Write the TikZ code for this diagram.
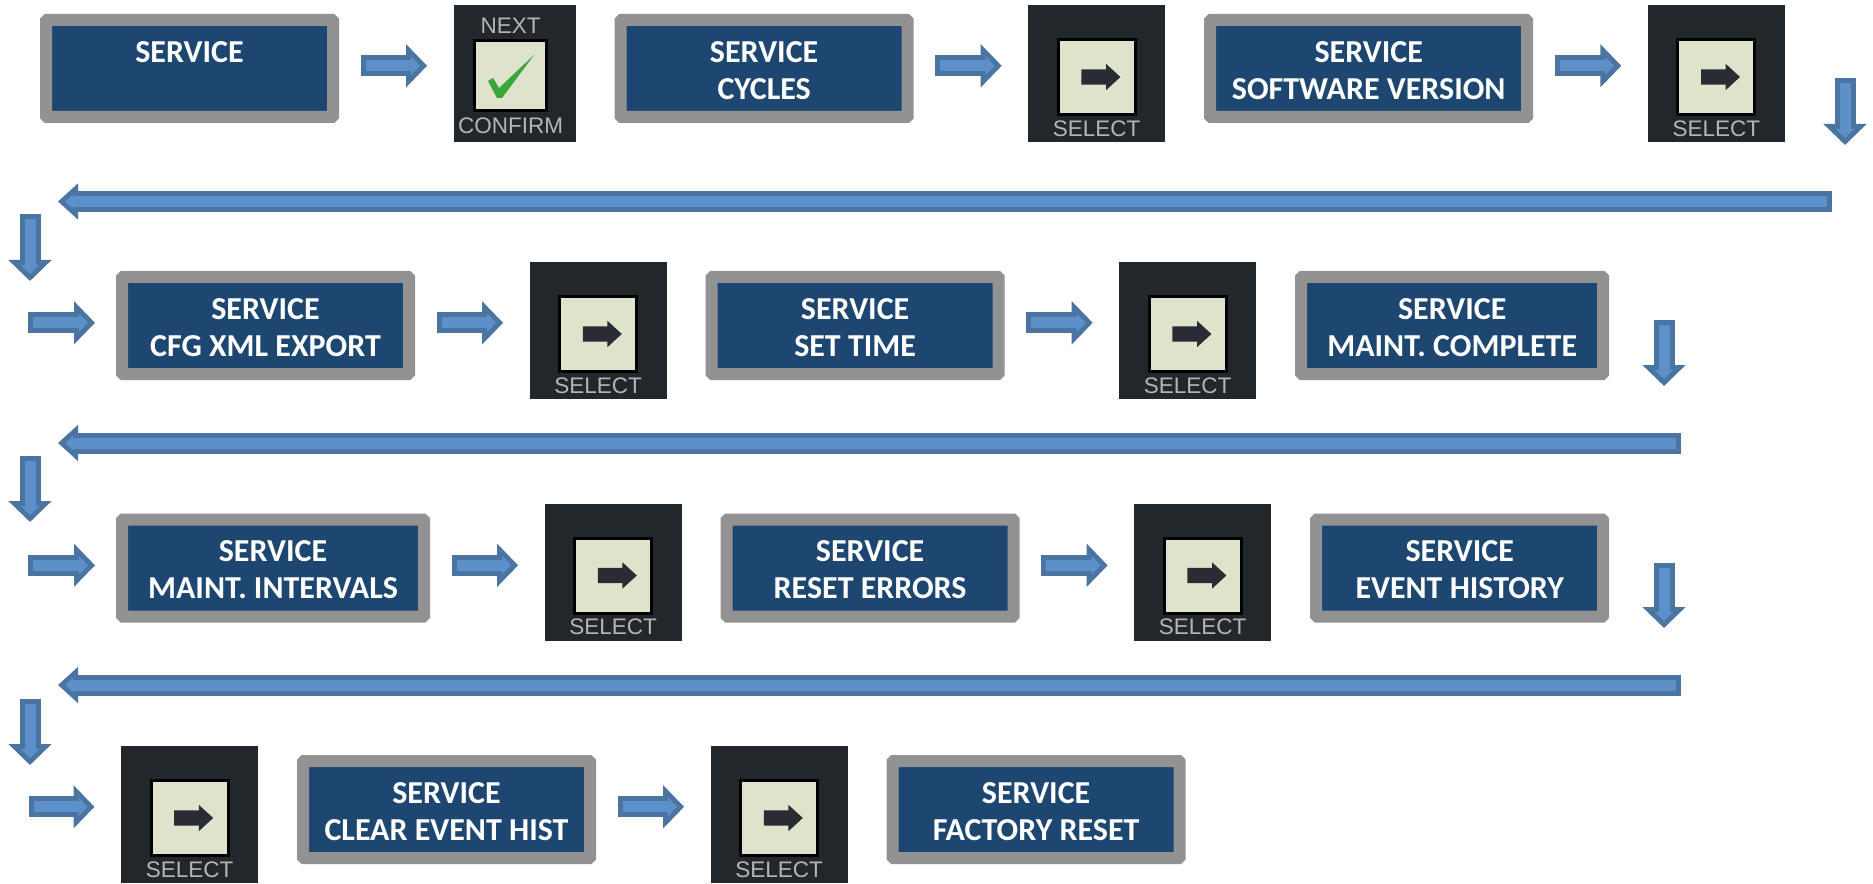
\documentclass[tikz,border=0pt]{standalone}
\usepackage{fontspec}
\setmainfont{Carlito}
\newfontfamily\keyfont{Liberation Sans}
\usetikzlibrary{arrows.meta,positioning,shapes.arrows}

\definecolor{framegray}{HTML}{929292}
\definecolor{screenblue}{HTML}{1D4770}
\definecolor{flowdark}{HTML}{4A74A2}
\definecolor{flowlight}{HTML}{5D90C8}
\definecolor{keydark}{HTML}{22272C}
\definecolor{keyface}{HTML}{DFE3CC}
\definecolor{keytext}{HTML}{B4B6B4}
\definecolor{keyglyph}{HTML}{2A2C33}
\definecolor{keycheck}{HTML}{3AA53A}

\tikzset{
  screen/.style={draw=framegray, fill=screenblue, line width=1.2mm, rounded corners=.1mm,
    text=white, font=\fontsize{9.1}{10.5}\selectfont\bfseries, align=center,
    text height=17.5pt, text depth=0pt,
    minimum width=28.7mm, minimum height=9.7mm, inner sep=0pt, yshift=.5mm},
  keybg/.style={fill=keydark, minimum width=13.7mm, minimum height=13.7mm, inner sep=0pt, outer sep=0pt},
  keytop/.style={draw=black, fill=keyface, line width=.3mm, minimum width=7.7mm, minimum height=7.5mm, inner sep=0pt},
  keylabel/.style={text=keytext, font=\keyfont\fontsize{6.4}{7}\selectfont, inner sep=0pt},
  keyarrow/.style={single arrow, fill=keyglyph, minimum height=3.9mm, inner xsep=0pt, inner ysep=.7mm,
    single arrow head extend=.55mm, single arrow tip angle=85},
  flowout/.style={line width=2.1mm, draw=flowdark, -{Triangle[length=2.1mm,width=4.2mm]}},
  flowin/.style={line width=1.1mm, draw=flowlight, -{Triangle[length=.9mm,width=1.8mm]}, shorten <=.5mm, shorten >=.7mm},
  backout/.style={line width=2.1mm, draw=flowdark, -{Triangle[length=2mm,width=3.5mm]}},
  backin/.style={line width=1.1mm, draw=flowlight, -{Triangle[length=.8mm,width=1.4mm]}, shorten <=.5mm, shorten >=.7mm},
}

% key face, arrow and caption on a dark key node
\newcommand{\selectkey}[1]{
  \node[keytop, below=3.3mm of #1.north] (#1top) {};
  \node[keyarrow] (#1arrow) at (#1top) {};
  \node[keylabel, above=.5mm of #1.south] (#1label) {SELECT};
}
\newcommand{\flow}[3][2.65mm]{
  \path ([yshift=.27mm]#2) coordinate (flowfrom);
  \draw[flowout, shorten <=2.15mm, shorten >=#1] (flowfrom) -- (flowfrom -| #3);
  \draw[flowin, shorten <=2.65mm, shorten >=#1+.7mm] (flowfrom) -- (flowfrom -| #3);
}
\newcommand{\drop}[2]{
  \draw[flowout] (#1) -- (#2);
  \draw[flowin] (#1) -- (#2);
}
\newcommand{\back}[2]{
  \draw[backout] (#1) -- (#2);
  \draw[backin] (#1) -- (#2);
}

\begin{document}
\begin{tikzpicture}[x=.1mm, y=-.1mm]
    \useasboundingbox (0,0) rectangle (1873,883);

    % first row
    \node[screen] (box1) at (189.5,73.5) {SERVICE\\~};
    \node[keybg, minimum width=12.2mm, right=11.46mm of box1.east, yshift=-.5mm, anchor=west] (btn1) {};
    \node[keytop, minimum width=7.2mm, minimum height=7mm, below=3.4mm of btn1.north, xshift=-.4mm] (btn1top) {};
    \node[keylabel, above=.5mm of btn1top] (btn1next) {NEXT};
    \node[keylabel, below=.55mm of btn1top] (btn1confirm) {CONFIRM};
    \fill[keycheck] (488,81) -- (493,78) -- (499,88) -- (534,55) -- (502,98) -- (497,98) -- cycle;
    \node[screen, right=3.9mm of btn1] (box2) {SERVICE\\CYCLES};
    \node[keybg, right=11.46mm of box2, yshift=-.5mm] (btn2) {};
    \selectkey{btn2}
    \node[screen, minimum width=31.7mm, right=3.9mm of btn2] (box3) {SERVICE\\SOFTWARE VERSION};
    \node[keybg, right=11.46mm of box3, yshift=-.5mm] (btn3) {};
    \selectkey{btn3}

    % second row
    \node[screen] (box4) at (265.5,330.5) {SERVICE\\CFG XML EXPORT};
    \node[keybg, right=11.46mm of box4, yshift=-.5mm] (btn4) {};
    \selectkey{btn4}
    \node[screen, right=3.9mm of btn4] (box5) {SERVICE\\SET TIME};
    \node[keybg, right=11.46mm of box5, yshift=-.5mm] (btn5) {};
    \selectkey{btn5}
    \node[screen, minimum width=30.2mm, right=3.9mm of btn5] (box6) {SERVICE\\MAINT. COMPLETE};

    % third row
    \node[screen, minimum width=30.2mm] (box7) at (273,573) {SERVICE\\MAINT. INTERVALS};
    \node[keybg, right=11.46mm of box7, yshift=-.4mm] (btn7) {};
    \selectkey{btn7}
    \node[screen, yshift=-.1mm, right=3.9mm of btn7] (box8) {SERVICE\\RESET ERRORS};
    \node[keybg, right=11.46mm of box8, yshift=-.4mm] (btn8) {};
    \selectkey{btn8}
    \node[screen, yshift=-.1mm, right=3.9mm of btn8] (box9) {SERVICE\\EVENT HISTORY};

    % last row
    \node[keybg] (btn9) at (189.5,814.5) {};
    \selectkey{btn9}
    \node[screen, right=3.9mm of btn9] (box10) {SERVICE\\CLEAR EVENT HIST};
    \node[keybg, right=11.46mm of box10, yshift=-.5mm] (btn10) {};
    \selectkey{btn10}
    \node[screen, right=3.9mm of btn10] (box11) {SERVICE\\FACTORY RESET};

    % free ends of the arrows
    \coordinate (down1a) at (1845,78);
    \coordinate (down1b) at (1845,145);
    \coordinate (back1a) at (1832,201.5);
    \coordinate (back1b) at (58,201.5);
    \coordinate (down2a) at (30,214);
    \coordinate (down2b) at (30,281);
    \coordinate[left=10.95mm of box4.west] (in2);
    \coordinate (down3a) at (1664,320);
    \coordinate (down3b) at (1664,386);
    \coordinate (back2a) at (1681,443);
    \coordinate (back2b) at (58,443);
    \coordinate (down4a) at (30,456);
    \coordinate (down4b) at (30,522);
    \coordinate[left=10.95mm of box7.west] (in3);
    \coordinate (down5a) at (1664,563);
    \coordinate (down5b) at (1664,628);
    \coordinate (back3a) at (1681,685);
    \coordinate (back3b) at (58,685);
    \coordinate (down6a) at (30,699);
    \coordinate (down6b) at (30,765);
    \coordinate (in4) at (7,809.5);

    \flow{box1.east}{btn1.west}
    \flow{box2.east}{btn2.west}
    \flow{box3.east}{btn3.west}
    \drop{down1a}{down1b}
    \back{back1a}{back1b}
    \drop{down2a}{down2b}
    \flow[2.1mm]{in2}{box4.west}
    \flow{box4.east}{btn4.west}
    \flow{box5.east}{btn5.west}
    \drop{down3a}{down3b}
    \back{back2a}{back2b}
    \drop{down4a}{down4b}
    \flow[2.1mm]{in3}{box7.west}
    \flow{box7.east}{btn7.west}
    \flow{box8.east}{btn8.west}
    \drop{down5a}{down5b}
    \back{back3a}{back3b}
    \drop{down6a}{down6b}
    \flow{in4}{btn9.west}
    \flow{box10.east}{btn10.west}
  \end{tikzpicture}
\end{document}
